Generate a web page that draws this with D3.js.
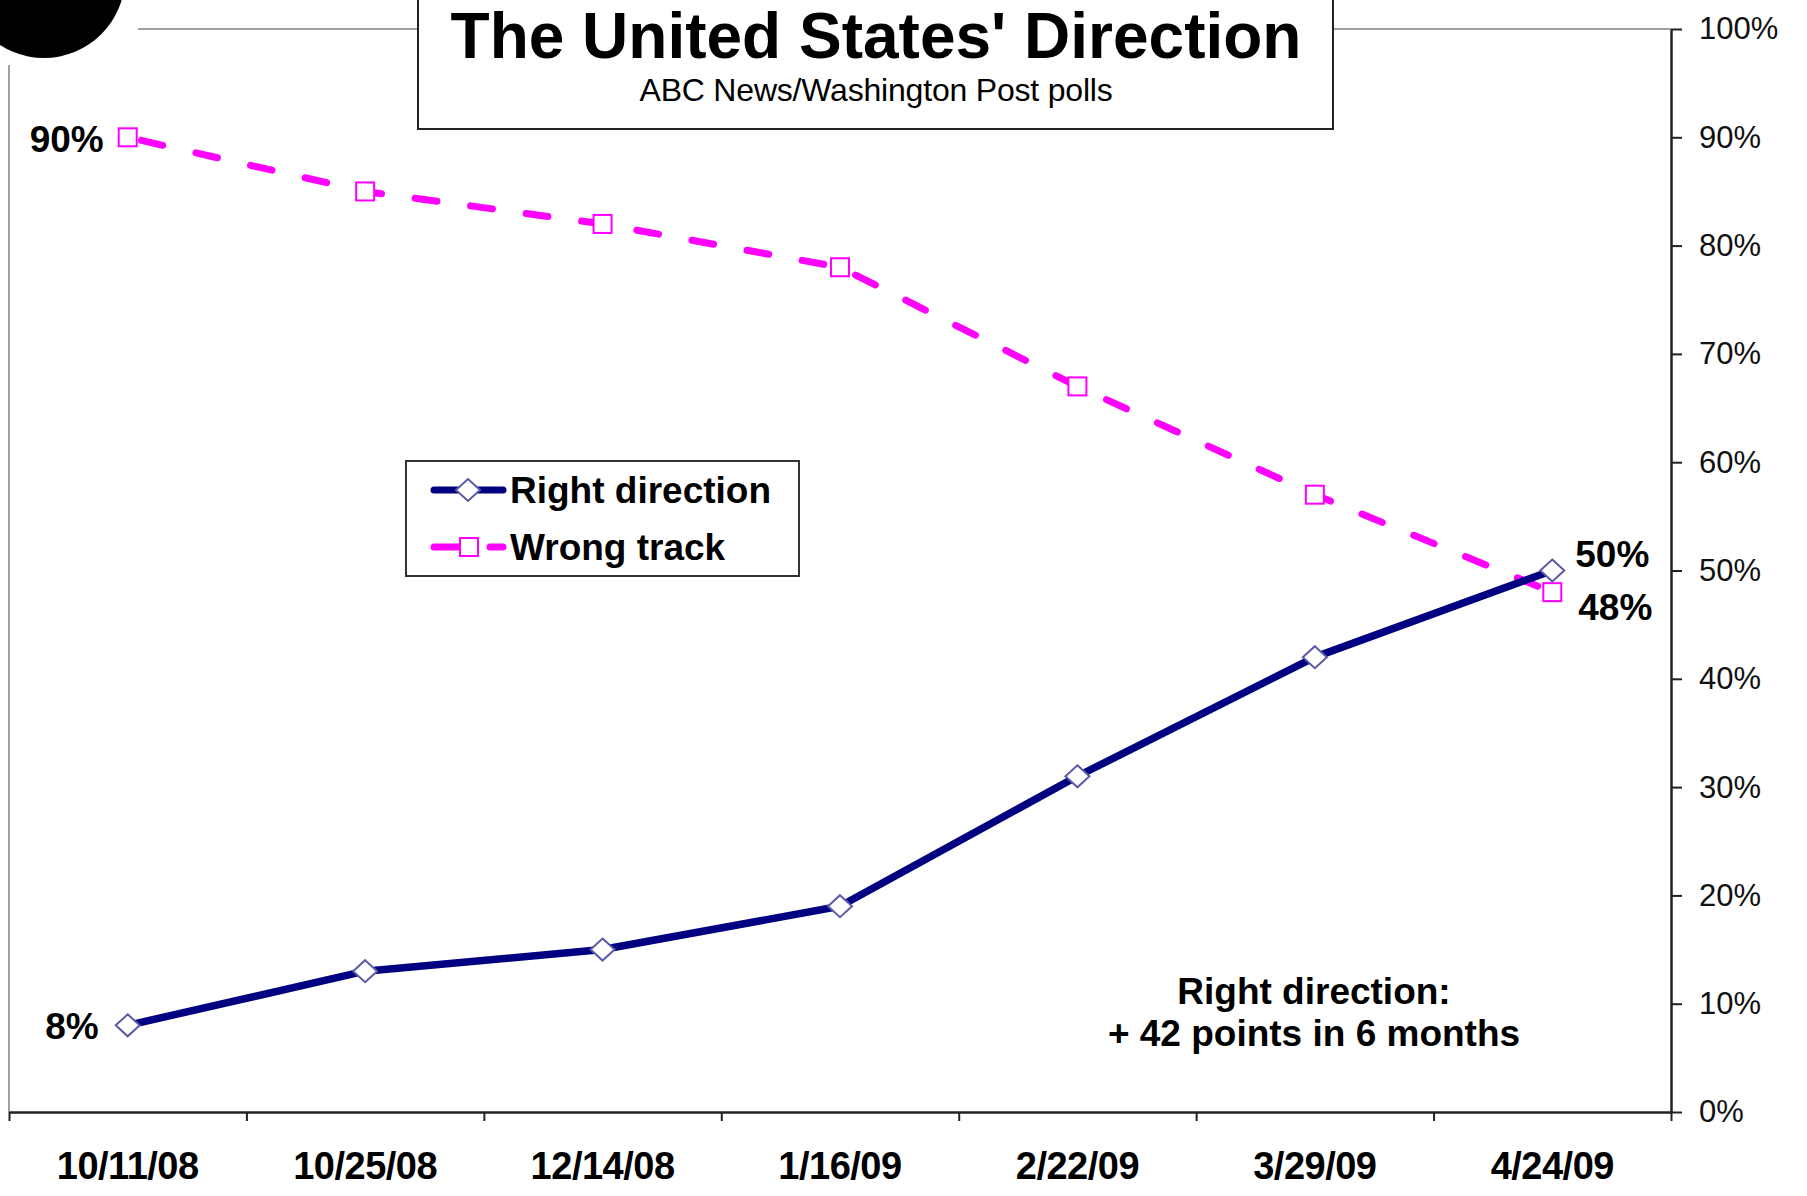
<!DOCTYPE html>
<html>
<head>
<meta charset="utf-8">
<script src="https://cdn.jsdelivr.net/npm/d3@7"></script>
<style>
  body { margin: 0; background: #fff; }
  svg { display: block; }
  text { font-family: "Liberation Sans", Arial, sans-serif; }
</style>
</head>
<body>
<svg id="chart" width="1807" height="1196"></svg>
<script>
// poll dates and values (share of respondents)
var dates = ["10/11/08", "10/25/08", "12/14/08", "1/16/09", "2/22/09", "3/29/09", "4/24/09"];
var rightDirection = [0.08, 0.13, 0.15, 0.19, 0.31, 0.42, 0.50];
var wrongTrack = [0.90, 0.85, 0.82, 0.78, 0.67, 0.57, 0.48];
var yTicks = [0, 0.1, 0.2, 0.3, 0.4, 0.5, 0.6, 0.7, 0.8, 0.9, 1.0];

var plotLeft = 9, plotRight = 1671, plotTop = 29, plotBottom = 1112;

var svg = d3.select("#chart");

var x = d3.scaleLinear().domain([0, dates.length]).range([plotLeft, plotRight]);
var y = d3.scaleLinear().domain([0, 1]).range([plotBottom, plotTop]);

function px(d, i) { return x(i + 0.5); }

// plot frame: gray top and left edges
svg.append("line")
    .attr("x1", 138).attr("x2", plotRight)
    .attr("y1", plotTop).attr("y2", plotTop)
    .attr("stroke", "#a0a0a0").attr("stroke-width", 2);
svg.append("line")
    .attr("x1", plotLeft).attr("x2", plotLeft)
    .attr("y1", 65).attr("y2", plotBottom)
    .attr("stroke", "#a0a0a0").attr("stroke-width", 2);

// bottom axis, ticks on category boundaries
var xAxis = svg.append("g")
    .attr("transform", "translate(0," + plotBottom + ")")
    .call(d3.axisBottom(x).tickValues(d3.range(dates.length + 1)).tickFormat("").tickSize(9).tickSizeOuter(0));
xAxis.select(".domain").attr("stroke", "#222").attr("stroke-width", 2.5);
xAxis.selectAll(".tick line").attr("stroke", "#222").attr("stroke-width", 2);

svg.append("g").selectAll("text")
    .data(dates)
    .join("text")
    .attr("x", px)
    .attr("y", 1179)
    .attr("text-anchor", "middle")
    .attr("font-size", 38)
    .attr("font-weight", "bold")
    .attr("letter-spacing", -0.5)
    .attr("fill", "#000")
    .text(function (d) { return d; });

// right axis
var yAxis = svg.append("g")
    .attr("transform", "translate(" + plotRight + ",0)")
    .call(d3.axisRight(y).tickValues(yTicks).tickFormat(d3.format(".0%")).tickSize(11).tickPadding(17).tickSizeOuter(0));
yAxis.select(".domain").attr("stroke", "#222").attr("stroke-width", 2.5);
yAxis.selectAll(".tick line").attr("stroke", "#222").attr("stroke-width", 2);
yAxis.selectAll(".tick text")
    .attr("font-size", 31)
    .attr("fill", "#111")
    .attr("font-family", "\"Liberation Sans\", Arial, sans-serif");

var line = d3.line()
    .x(px)
    .y(function (d) { return y(d); });

// wrong track: dashed magenta with squares
svg.append("path")
    .datum(wrongTrack)
    .attr("d", line)
    .attr("fill", "none")
    .attr("stroke", "#ff00ff")
    .attr("stroke-width", 7)
    .attr("stroke-linecap", "round")
    .attr("stroke-dasharray", "22 34")
    .attr("stroke-dashoffset", -14);

svg.append("g").selectAll("rect")
    .data(wrongTrack)
    .join("rect")
    .attr("x", function (d, i) { return px(d, i) - 9; })
    .attr("y", function (d) { return y(d) - 9; })
    .attr("width", 18).attr("height", 18)
    .attr("fill", "#fff")
    .attr("stroke", "#ff00ff")
    .attr("stroke-width", 2);

// right direction: solid navy with diamonds
svg.append("path")
    .datum(rightDirection)
    .attr("d", line)
    .attr("fill", "none")
    .attr("stroke", "#000080")
    .attr("stroke-width", 7.5)
    .attr("stroke-linejoin", "round");

var diamond = "M0,-11L12,0L0,11L-12,0Z";
svg.append("g").selectAll("path")
    .data(rightDirection)
    .join("path")
    .attr("transform", function (d, i) { return "translate(" + px(d, i) + "," + y(d) + ")"; })
    .attr("d", diamond)
    .attr("fill", "#fff")
    .attr("stroke", "#5a5aa8")
    .attr("stroke-width", 2);

// end-point labels
var fmt = d3.format(".0%");
var n = dates.length - 1;
var labels = [
    {v: wrongTrack[0], i: 0, dx: -24, dy: 15, anchor: "end"},
    {v: rightDirection[0], i: 0, dx: -29, dy: 14, anchor: "end"},
    {v: rightDirection[n], i: n, dx: 23, dy: -4, anchor: "start"},
    {v: wrongTrack[n], i: n, dx: 26, dy: 28, anchor: "start"}
];
svg.append("g").selectAll("text")
    .data(labels)
    .join("text")
    .attr("x", function (d) { return x(d.i + 0.5) + d.dx; })
    .attr("y", function (d) { return y(d.v) + d.dy; })
    .attr("text-anchor", function (d) { return d.anchor; })
    .attr("font-size", 37)
    .attr("font-weight", "bold")
    .attr("fill", "#000")
    .text(function (d) { return fmt(d.v); });

// annotation
var note = svg.append("text")
    .attr("text-anchor", "middle")
    .attr("font-size", 37)
    .attr("font-weight", "bold")
    .attr("fill", "#000");
note.append("tspan").attr("x", 1314).attr("y", 1004).text("Right direction:");
note.append("tspan").attr("x", 1314).attr("y", 1046).text("+ 42 points in 6 months");

// legend
var legend = svg.append("g");
legend.append("rect")
    .attr("x", 406).attr("y", 461)
    .attr("width", 393).attr("height", 115)
    .attr("fill", "#fff")
    .attr("stroke", "#333")
    .attr("stroke-width", 2);

legend.append("line")
    .attr("x1", 434).attr("x2", 503).attr("y1", 490).attr("y2", 490)
    .attr("stroke", "#000080").attr("stroke-width", 7).attr("stroke-linecap", "round");
legend.append("path")
    .attr("transform", "translate(468,490)")
    .attr("d", diamond)
    .attr("fill", "#fff").attr("stroke", "#5a5aa8").attr("stroke-width", 2);
legend.append("text")
    .attr("x", 510).attr("y", 503)
    .attr("font-size", 37).attr("font-weight", "bold")
    .text("Right direction");

legend.append("line")
    .attr("x1", 434).attr("x2", 460).attr("y1", 547).attr("y2", 547)
    .attr("stroke", "#ff00ff").attr("stroke-width", 7).attr("stroke-linecap", "round");
legend.append("line")
    .attr("x1", 490).attr("x2", 503).attr("y1", 547).attr("y2", 547)
    .attr("stroke", "#ff00ff").attr("stroke-width", 7).attr("stroke-linecap", "round");
legend.append("rect")
    .attr("x", 460).attr("y", 538).attr("width", 18).attr("height", 18)
    .attr("fill", "#fff").attr("stroke", "#ff00ff").attr("stroke-width", 2);
legend.append("text")
    .attr("x", 510).attr("y", 560)
    .attr("font-size", 37).attr("font-weight", "bold")
    .text("Wrong track");

// title box
var title = svg.append("g");
title.append("rect")
    .attr("x", 418).attr("y", -5)
    .attr("width", 915).attr("height", 134)
    .attr("fill", "#fff")
    .attr("stroke", "#222")
    .attr("stroke-width", 2);
title.append("text")
    .attr("x", 876).attr("y", 58)
    .attr("text-anchor", "middle")
    .attr("font-size", 64).attr("font-weight", "bold")
    .text("The United States' Direction");
title.append("text")
    .attr("x", 876).attr("y", 101)
    .attr("text-anchor", "middle")
    .attr("font-size", 32)
    .attr("letter-spacing", -0.2)
    .text("ABC News/Washington Post polls");

// black blot in the top-left corner
svg.append("circle")
    .attr("cx", 44).attr("cy", -23).attr("r", 81)
    .attr("fill", "#000");
</script>
</body>
</html>
